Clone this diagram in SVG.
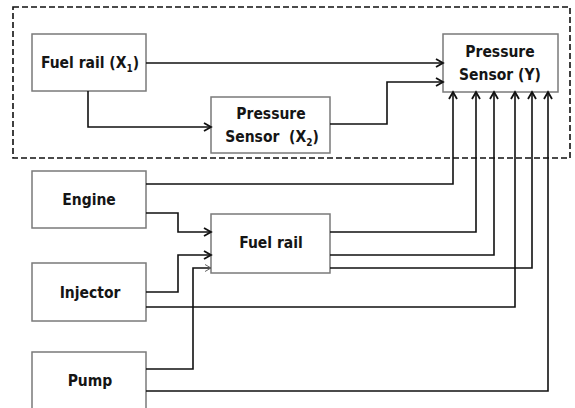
<svg xmlns="http://www.w3.org/2000/svg" width="575" height="408" viewBox="0 0 575 408">
<defs>
<marker id="ah" markerUnits="userSpaceOnUse" markerWidth="12" markerHeight="12" refX="9" refY="5" orient="auto">
<path d="M2,1 L9,5 L2,9" fill="none" stroke="#111" stroke-width="1.8"/>
</marker>
<marker id="ahg" markerUnits="userSpaceOnUse" markerWidth="12" markerHeight="12" refX="9" refY="5" orient="auto">
<path d="M3,1.5 L9,5 L3,8.5" fill="none" stroke="#666" stroke-width="1"/>
</marker>
</defs>
<style>
.box{fill:#fff;stroke:#7a7a7a;stroke-width:1.5}
.t{font-family:"DejaVu Sans Condensed","DejaVu Sans",sans-serif;font-weight:bold;font-size:15.5px;fill:#151515;text-anchor:middle}
.c{fill:none;stroke:#111;stroke-width:1.6}
.a{marker-end:url(#ah)}
</style>
<rect x="13" y="7" width="557" height="151" fill="none" stroke="#111" stroke-width="1.6" stroke-dasharray="6,3"/>
<g id="fuelrail-x1"><rect class="box" x="32" y="34" width="114" height="57"/><text class="t" x="90" y="68">Fuel rail (X<tspan font-size="10" dy="4">1</tspan><tspan dy="-4">)</tspan></text></g>
<g id="sensor-x2"><rect class="box" x="211" y="97" width="119" height="56"/><text class="t" x="271" y="119">Pressure</text><text class="t" x="272" y="142" xml:space="preserve">Sensor  (X<tspan font-size="10" dy="4">2</tspan><tspan dy="-4">)</tspan></text></g>
<g id="sensor-y"><rect class="box" x="443" y="34" width="115" height="58"/><text class="t" x="500" y="57">Pressure</text><text class="t" x="500" y="80">Sensor (Y)</text></g>
<g id="engine"><rect class="box" x="32" y="171" width="114" height="57"/><text class="t" x="89" y="205">Engine</text></g>
<g id="fuelrail"><rect class="box" x="211" y="214" width="119" height="59"/><text class="t" x="271" y="248">Fuel rail</text></g>
<g id="injector"><rect class="box" x="32" y="263" width="114" height="58"/><text class="t" x="90" y="298">Injector</text></g>
<g id="pump"><rect class="box" x="32" y="352" width="114" height="60"/><text class="t" x="90" y="386">Pump</text></g>
<g id="connectors">
<path class="c a" d="M146,63 H443"/>
<path class="c a" d="M88,91 V127 H211"/>
<path class="c a" d="M330,124 H387 V82 H443"/>
<path class="c a" d="M146,184 H453 V92"/>
<path class="c a" d="M146,213 H178 V232 H211"/>
<path class="c a" d="M146,292 H178 V255 H211"/>
<path class="c" d="M146,369 H193 V268 H211" marker-end="url(#ahg)"/>
<path class="c a" d="M330,232 H476 V92"/>
<path class="c a" d="M330,255 H494 V92"/>
<path class="c a" d="M330,268 H532 V92"/>
<path class="c a" d="M146,307 H515 V92"/>
<path class="c a" d="M146,391 H548 V92"/>
</g>
</svg>
